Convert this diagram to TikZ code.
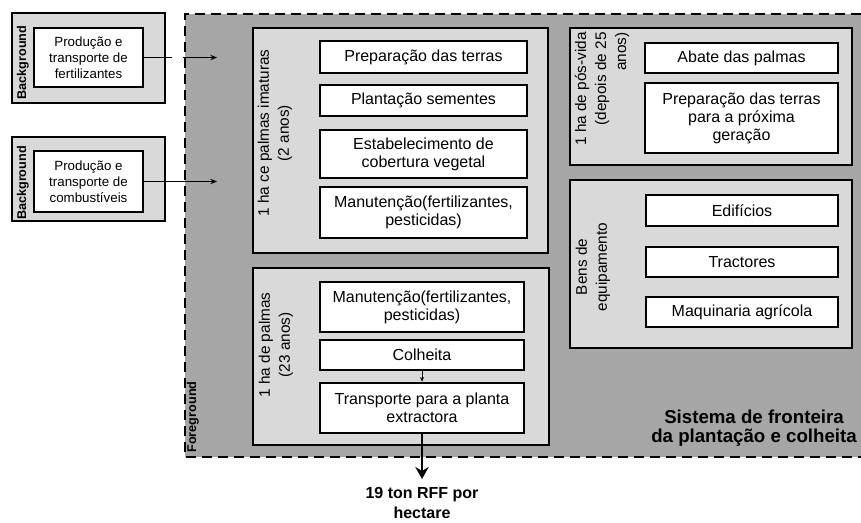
\documentclass[tikz,border=0pt]{standalone}
\usepackage{fontspec}
\setmainfont{Liberation Sans}
\usetikzlibrary{arrows.meta}
\definecolor{fggray}{HTML}{A6A6A6}
\definecolor{boxgray}{HTML}{D9D9D9}
\tikzset{
  outerbox/.style={draw=black, line width=1.4pt, fill=boxgray, inner sep=0pt},
  innerbox/.style={draw=black, line width=2pt, fill=white, align=center, inner sep=0pt,
    font=\fontsize{12}{13.5}\selectfont},
  bginner/.style={draw=black, line width=2pt, fill=white, align=center, inner sep=0pt,
    font=\fontsize{10}{12}\selectfont},
  sidelabel/.style={rotate=90, align=center, inner sep=0pt, font=\fontsize{11.5}{15}\selectfont},
  tagtext/.style={rotate=90, inner sep=0pt, font=\bfseries\fontsize{9.5}{11}\selectfont},
  thinarrow/.style={line width=0.8pt, -{Stealth[length=5pt,width=4pt]}},
  thinline/.style={line width=0.8pt},
  bigarrow/.style={line width=2.2pt, -{Stealth[length=9pt,width=10pt,inset=3pt]}},
  boundary/.style={line width=1.8pt, dash pattern=on 7.5pt off 4.5pt},
}
\begin{document}
\begin{tikzpicture}[x=0.75pt, y=-0.75pt]
\useasboundingbox (0,0) rectangle (861,522);

% foreground system boundary
\fill[fggray] (185,14) rectangle (861,457);
\draw[boundary] (861,14) -- (185,14) -- (185,457) -- (861,457);
\node[tagtext] (fglabel) at (193,417) {Foreground};

% background boxes
\node[outerbox, minimum width=114.75pt, minimum height=67.5pt] (bg1) at (88.5,58) {};
\node[bginner, minimum width=81.75pt, minimum height=44.25pt] (bg1in) at (88.5,57.5)
  {Produção e\\transporte de\\fertilizantes};
\node[tagtext] (bg1lab) at (23,62.5) {Background};

\node[outerbox, minimum width=114.75pt, minimum height=63pt] (bg2) at (88.5,179) {};
\node[bginner, minimum width=81.75pt, minimum height=45.75pt] (bg2in) at (88.5,181.5)
  {Produção e\\transporte de\\combustíveis};
\node[tagtext] (bg2lab) at (23,183) {Background};

% immature palms
\node[outerbox, minimum width=221.25pt, minimum height=168.75pt] (imm) at (400.5,140.5) {};
\node[sidelabel] (immlab) at (275,133) {1 ha ce palmas imaturas\\(2 anos)};
\node[innerbox, minimum width=155.25pt, minimum height=24pt] (p1) at (423.5,57) {Preparação das terras};
\node[innerbox, minimum width=155.25pt, minimum height=23.25pt] (p2) at (423.5,100.5) {Plantação sementes};
\node[innerbox, minimum width=155.25pt, minimum height=36pt] (p3) at (423.5,154) {Estabelecimento de\\cobertura vegetal};
\node[innerbox, minimum width=155.25pt, minimum height=38.25pt] (p4) at (423.5,212.5) {Manutenção(fertilizantes,\\pesticidas)};

% mature palms
\node[outerbox, minimum width=222pt, minimum height=132.75pt] (mat) at (401,356.5) {};
\node[sidelabel] (matlab) at (276,345) {1 ha de palmas\\(23 anos)};
\node[innerbox, minimum width=153pt, minimum height=37.5pt] (q1) at (422,307) {Manutenção(fertilizantes,\\pesticidas)};
\node[innerbox, minimum width=153pt, minimum height=22.5pt] (q2) at (422,355) {Colheita};
\node[innerbox, minimum width=153pt, minimum height=37.5pt] (q3) at (422,408) {Transporte para a planta\\extractora};

% post-life
\node[outerbox, minimum width=211.5pt, minimum height=102.75pt] (post) at (711,96.5) {};
\node[sidelabel, align=right] (postlab) at (602,89) {1 ha de pós-vida\\(depois de 25\\anos)};
\node[innerbox, minimum width=144.75pt, minimum height=22.5pt] (r1) at (741.5,58) {Abate das palmas};
\node[innerbox, minimum width=144.75pt, minimum height=52.5pt] (r2) at (741.5,118) {Preparação das terras\\para a próxima\\geração};

% capital goods
\node[outerbox, minimum width=211.5pt, minimum height=126pt] (cap) at (711,264) {};
\node[sidelabel] (caplab) at (593,267) {Bens de\\equipamento};
\node[innerbox, minimum width=144pt, minimum height=23.25pt] (s1) at (742,210.5) {Edifícios};
\node[innerbox, minimum width=144pt, minimum height=22.5pt] (s2) at (742,262) {Tractores};
\node[innerbox, minimum width=144pt, minimum height=22.5pt] (s3) at (742,312) {Maquinaria agrícola};

% system title
\node[align=center, inner sep=0pt, font=\bfseries\fontsize{14}{14.5}\selectfont] (title) at (754,428)
  {Sistema de fronteira\\da plantação e colheita};

% connectors
\coordinate (g1a) at (172,57.5);
\coordinate (g1b) at (183,57.5);
\coordinate (a1end) at (217,57.5);
\draw[thinline] (bg1in.east) -- (g1a);
\draw[thinarrow] (g1b) -- (a1end);
\coordinate (a2end) at (217,181.5);
\draw[thinarrow] (bg2in.east) -- (a2end);
\draw[line width=0.6pt, -{Stealth[length=3.5pt,width=3pt]}] (q2.south) -- (q3.north);
\coordinate (outend) at (422,479);
\draw[bigarrow] (q3.south) -- (outend);
\node[align=center, inner sep=0pt, font=\bfseries\fontsize{12}{15}\selectfont] (out) at (422,503)
  {19 ton RFF por\\hectare};
\end{tikzpicture}
\end{document}
